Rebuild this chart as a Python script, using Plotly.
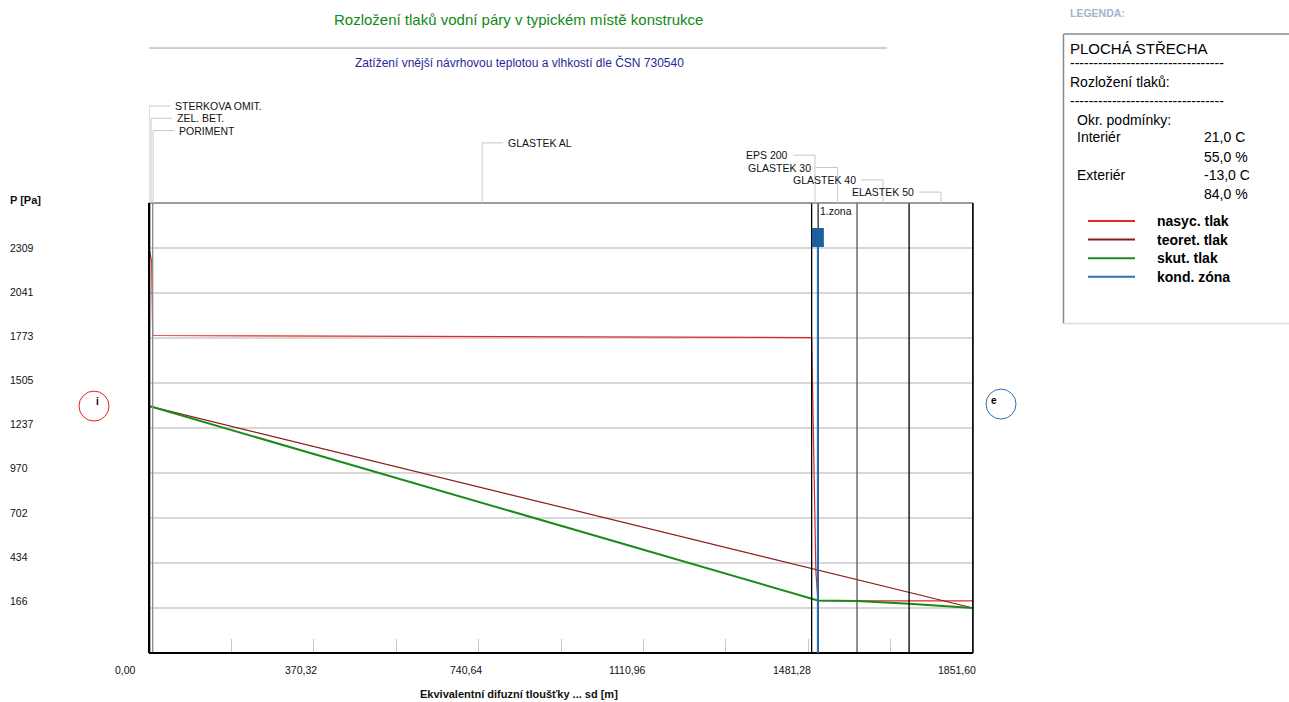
import plotly.graph_objects as go

# ---------------- data ----------------
x_max = 1851.60
layer_names = ["STERKOVA OMIT.", "ZEL. BET.", "PORIMENT", "GLASTEK AL",
               "EPS 200", "GLASTEK 30", "GLASTEK 40", "ELASTEK 50"]
layer_bounds = [0.0, 0.3, 1.5, 8.3, 1489.0, 1504.0, 1591.0, 1708.0, 1851.6]

x_tick_vals = [0.00, 370.32, 740.64, 1110.96, 1481.28, 1851.60]
x_tick_text = ["0,00", "370,32", "740,64", "1110,96", "1481,28", "1851,60"]
y_tick_vals = [2309, 2041, 1773, 1505, 1237, 970, 702, 434, 166]
y_tick_text = ["2309", "2041", "1773", "1505", "1237", "970", "702", "434", "166"]

# saturated vapour pressure (nasyc. tlak)
sat_x = [0.0, 6.0, 8.3, 1489.0, 1489.5, 1491.5, 1493.8, 1496.0, 1498.5, 1503.0, 1504.0, 1591.0, 1708.0, 1851.6]
sat_p = [2309, 2229, 1788, 1776, 1723, 1361, 1011, 578, 388, 215, 210, 209, 208, 208]
# theoretical partial pressure (teoret. tlak)
theo_x = [0.0, 1851.6]
theo_p = [1368, 166]
# actual partial pressure (skut. tlak)
act_x = [0.0, 1503.0, 1591.0, 1708.0, 1851.6]
act_p = [1368, 211, 207, 192, 166]
# condensation zone
cond_x = [1503.0]
cond_names = ["1.zona"]

legend_title = "PLOCHÁ STŘECHA"
legend_sub = "Rozložení tlaků:"
cond_label = "Okr. podmínky:"
interior = ["Interiér", "21,0 C", "55,0 %"]
exterior = ["Exteriér", "-13,0 C", "84,0 %"]
series_names = ["nasyc. tlak", "teoret. tlak", "skut. tlak", "kond. zóna"]

# ---------------- styles ----------------
C_SAT = "#e02828"
C_THEO = "#8b1a1a"
C_ACT = "#1a8a1a"
C_COND = "#2a74b8"
boundary_colors = ["#000000", "#000000", "#000000", "#8a8a8a", "#000000",
                   "#000000", "#555555", "#000000", "#000000"]
NARROW = "Liberation Sans Narrow, Arial Narrow, Liberation Sans, Arial, sans-serif"
SANS = "Liberation Sans, Arial, sans-serif"
NS = 10.5  # size for the narrow-looking texts

FW, FH = 1289, 702
L, R, T, B = 149, 973, 203, 653
W, H = R - L, B - T


def PX(px):
    return (px - L) / W


def PY(py):
    return (B - py) / H


y_step = (y_tick_vals[0] - y_tick_vals[-1]) / (len(y_tick_vals) - 1)
y_min, y_max = y_tick_vals[-1] - y_step, y_tick_vals[0] + y_step


def YP(v):
    return (v - y_min) / (y_max - y_min)


fig = go.Figure()
fig.add_trace(go.Scatter(x=sat_x, y=sat_p, mode="lines", line=dict(color=C_SAT, width=1.2),
                         name=series_names[0], hoverinfo="skip"))
fig.add_trace(go.Scatter(x=theo_x, y=theo_p, mode="lines", line=dict(color=C_THEO, width=1.2),
                         name=series_names[1], hoverinfo="skip"))
fig.add_trace(go.Scatter(x=act_x, y=act_p, mode="lines", line=dict(color=C_ACT, width=2),
                         name=series_names[2], hoverinfo="skip"))

shapes = []
ann = []

# layer boundaries
for b, c in zip(layer_bounds, boundary_colors):
    shapes.append(dict(type="line", xref="x", yref="paper", x0=b, x1=b, y0=0, y1=1,
                       line=dict(color=c, width=1.3)))

# plot frame
shapes.append(dict(type="line", xref="paper", yref="paper", x0=0, x1=1, y0=1, y1=1,
                   line=dict(color="#7a7a7a", width=1.3)))
shapes.append(dict(type="line", xref="paper", yref="paper", x0=0, x1=1, y0=0, y1=0,
                   line=dict(color="#000000", width=2)))
shapes.append(dict(type="line", xref="paper", yref="paper", x0=0, x1=0, y0=0, y1=1,
                   line=dict(color="#000000", width=2)))
shapes.append(dict(type="line", xref="paper", yref="paper", x0=1, x1=1, y0=0, y1=1,
                   line=dict(color="#000000", width=1.5)))

# layer labels with leader lines
prev_px = -1e9
for i, name in enumerate(layer_names):
    mid = (layer_bounds[i] + layer_bounds[i + 1]) / 2
    mid_px = L + mid / x_max * W
    adj_px = max(mid_px, prev_px + 2)
    prev_px = adj_px
    off = adj_px - mid_px
    row_y = PY(106 + 12.3 * i)
    shapes.append(dict(type="line", xref="x", yref="paper", xsizemode="pixel", xanchor=mid,
                       x0=off, x1=off, y0=1, y1=row_y, line=dict(color="#c8c8c8", width=1)))
    right_side = mid < 0.6 * x_max
    d = 21 if right_side else -22
    shapes.append(dict(type="line", xref="x", yref="paper", xsizemode="pixel", xanchor=mid,
                       x0=off, x1=off + d, y0=row_y, y1=row_y,
                       line=dict(color="#c8c8c8", width=1)))
    ann.append(dict(x=mid, xref="x", y=row_y, yref="paper", text=name, showarrow=False,
                    xanchor="left" if right_side else "right", yanchor="middle",
                    xshift=off + (24 if right_side else -25),
                    font=dict(family=NARROW, size=NS, color="#111111")))

# condensation zone
for cx, cn in zip(cond_x, cond_names):
    shapes.append(dict(type="line", xref="x", yref="paper", x0=cx, x1=cx, y0=PY(228), y1=1,
                       line=dict(color="#8a8a8a", width=1.5)))
    shapes.append(dict(type="line", xref="x", yref="paper", x0=cx, x1=cx, y0=0, y1=PY(247),
                       line=dict(color=C_COND, width=2)))
    shapes.append(dict(type="rect", xref="x", yref="paper", xsizemode="pixel", xanchor=cx,
                       x0=-6, x1=6, y0=PY(247), y1=PY(228), fillcolor="#1b5f9e",
                       line=dict(width=0)))
    ann.append(dict(x=cx, xref="x", y=PY(211.5), yref="paper", text=cn, showarrow=False,
                    xanchor="left", yanchor="middle", xshift=0,
                    font=dict(family=NARROW, size=NS, color="#111111")))

# interior / exterior circles
yc = YP(theo_p[0])
shapes.append(dict(type="circle", xref="paper", yref="paper", xsizemode="pixel", ysizemode="pixel",
                   xanchor=0, yanchor=yc, x0=-70, x1=-40, y0=-15, y1=15,
                   line=dict(color="#e02020", width=1)))
shapes.append(dict(type="circle", xref="paper", yref="paper", xsizemode="pixel", ysizemode="pixel",
                   xanchor=1, yanchor=yc, x0=13, x1=43, y0=-13, y1=17,
                   line=dict(color="#2f6fb0", width=1)))
ann.append(dict(x=0, xref="paper", y=yc, yref="paper", text="<b>i</b>", showarrow=False,
                xshift=-55, yshift=5, font=dict(family=SANS, size=10, color="#000")))
ann.append(dict(x=1, xref="paper", y=yc, yref="paper", text="<b>e</b>", showarrow=False,
                xshift=26, yshift=6, font=dict(family=SANS, size=10, color="#000")))

# y tick labels
for i, (v, t) in enumerate(zip(y_tick_vals, y_tick_text)):
    ann.append(dict(x=PX(10), xref="paper", y=v, yref="y", text=t, showarrow=False,
                    xanchor="left", yanchor="middle", yshift=0.9 * i, xshift=-2,
                    font=dict(family=NARROW, size=NS, color="#111")))
ann.append(dict(x=PX(10), xref="paper", y=PY(200), yref="paper", text="<b>P [Pa]</b>",
                showarrow=False, xanchor="left", yanchor="middle", xshift=-2,
                font=dict(family=SANS, size=11, color="#111")))

# x tick labels
for v, t in zip(x_tick_vals, x_tick_text):
    ann.append(dict(x=v, xref="x", y=PY(670), yref="paper", text=t, showarrow=False,
                    xanchor="right", yanchor="middle", xshift=(-11 if v == 0 else 5),
                    font=dict(family=NARROW, size=NS, color="#111")))
ann.append(dict(x=PX(519), xref="paper", y=PY(694), yref="paper",
                text="<b>Ekvivalentní difuzní tloušťky ... sd [m]</b>", showarrow=False,
                xanchor="center", yanchor="middle",
                font=dict(family=SANS, size=11, color="#111")))

# titles
ann.append(dict(x=PX(518), xref="paper", y=PY(20), yref="paper",
                text="Rozložení tlaků vodní páry v typickém místě konstrukce", showarrow=False,
                xanchor="center", yanchor="middle",
                font=dict(family=SANS, size=15, color="#0f8a14")))
shapes.append(dict(type="line", xref="paper", yref="paper", x0=PX(149), x1=PX(887),
                   y0=PY(48), y1=PY(48), line=dict(color="#a0a0a0", width=1)))
ann.append(dict(x=PX(519), xref="paper", y=PY(62), yref="paper",
                text="Zatížení vnější návrhovou teplotou a vlhkostí dle ČSN 730540", showarrow=False,
                xanchor="center", yanchor="middle",
                font=dict(family=NARROW, size=12, color="#28289a")))

# legend panel
ann.append(dict(x=PX(1070), xref="paper", y=PY(13.5), yref="paper", text="<b>LEGENDA:</b>",
                showarrow=False, xanchor="left", yanchor="middle", xshift=-2,
                font=dict(family=SANS, size=10.5, color="#a3b5cf")))
shapes.append(dict(type="line", xref="paper", yref="paper", x0=PX(1063.5), x1=PX(1295),
                   y0=PY(34), y1=PY(34), line=dict(color="#8a8a8a", width=1.5)))
shapes.append(dict(type="line", xref="paper", yref="paper", x0=PX(1063.5), x1=PX(1063.5),
                   y0=PY(34), y1=PY(323.5), line=dict(color="#8a8a8a", width=1.5)))
shapes.append(dict(type="line", xref="paper", yref="paper", x0=PX(1063.5), x1=PX(1295),
                   y0=PY(323.5), y1=PY(323.5), line=dict(color="#dadada", width=1.5)))


def ltext(px, py, text, size=14, bold=False):
    ann.append(dict(x=PX(px), xref="paper", y=PY(py), yref="paper",
                    text=("<b>%s</b>" % text) if bold else text, showarrow=False,
                    xanchor="left", yanchor="middle", xshift=-2,
                    font=dict(family=SANS, size=size, color="#000")))


ltext(1070, 48.5, legend_title, size=15)
ltext(1070, 63.5, "-" * 33)
ltext(1070, 82, legend_sub)
ltext(1070, 101, "-" * 33)
ltext(1077, 119.5, cond_label)
ltext(1077, 137.5, interior[0])
ltext(1204, 137.5, interior[1])
ltext(1204, 156.5, interior[2])
ltext(1077, 175, exterior[0])
ltext(1204, 175, exterior[1])
ltext(1204, 193.5, exterior[2])

for k, (nm, col) in enumerate(zip(series_names, [C_SAT, C_THEO, C_ACT, C_COND])):
    yy = 221 + 18.6 * k
    shapes.append(dict(type="line", xref="paper", yref="paper", x0=PX(1088), x1=PX(1135),
                       y0=PY(yy), y1=PY(yy), line=dict(color=col, width=2)))
    ltext(1157, yy, nm, size=14, bold=True)

fig.update_layout(
    width=FW, height=FH, autosize=False,
    margin=dict(l=L, r=FW - R, t=T, b=FH - B, pad=0),
    paper_bgcolor="white", plot_bgcolor="white",
    showlegend=False,
    shapes=shapes, annotations=ann,
    xaxis=dict(range=[0, x_max], showgrid=False, zeroline=False, showline=False,
               tick0=0, dtick=x_max / 10, ticks="inside", ticklen=14, tickwidth=1.3,
               tickcolor="#c8c8c8", showticklabels=False, fixedrange=True),
    yaxis=dict(range=[y_min, y_max],
               tickmode="array", tickvals=y_tick_vals, showticklabels=False,
               showgrid=True, gridcolor="#d8d8d8", gridwidth=2, zeroline=False,
               showline=False, ticks="", fixedrange=True),
)

fig.write_html("out.html", config={"displayModeBar": False},
               post_script="document.body.style.margin='0';document.body.style.overflow='hidden';")
